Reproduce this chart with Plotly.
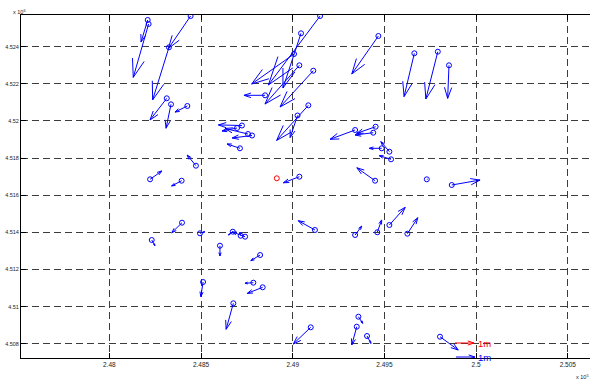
import plotly.graph_objects as go

# ---- data (easting / northing in metres, displacement u/v in metres) ----
east = [248209, 248214, 248443, 248325, 248313, 248336, 248425, 249149, 249045, 249007,
        249036, 249112, 248849, 249085, 249026, 249467, 249663, 249791, 249852, 249340,
        249452, 249439, 249485, 249527, 249536, 249449, 249731, 249867, 248723, 248696,
        248756, 248778, 248712, 248472, 248394, 248222, 249036, 248396, 248231, 248494,
        248673, 248740, 248716, 249121, 248603, 248822, 248511, 248785, 248836, 248676,
        249098, 249340, 249461, 249527, 249625, 249358, 249349, 249405, 249803]
north = [4525439, 4525223, 4525654, 4523968, 4521220, 4520897, 4520806, 4525654, 4524722, 4523607,
         4522998, 4522707, 4521382, 4520843, 4520294, 4524577, 4523645, 4523731, 4522998, 4519513,
         4519690, 4519367, 4518527, 4518344, 4517934, 4516781, 4516857, 4516550, 4519755, 4519620,
         4519297, 4519216, 4518527, 4517590, 4516781, 4516857, 4516997, 4514519, 4513587, 4513948,
         4514034, 4513765, 4513818, 4514126, 4513280, 4512779, 4511324, 4511287, 4511039, 4510177,
         4508884, 4513856, 4514002, 4514395, 4513926, 4509455, 4508916, 4508415, 4508377]
u = [-0.35, -0.81, -1.17, -0.86, -0.88, -0.26, -0.65, -2.72, -0.95, -2.23,
     -1.81, -1.75, -1.11, -1.67, -0.39, -1.40, -0.54, -0.63, -0.07, -1.32,
     -1.00, -0.96, -0.65, -0.45, -0.62, -0.96, 0.03, 1.49, -1.24, -0.79,
     -1.21, -1.05, -0.68, -0.46, -0.53, 0.62, -0.84, -0.54, 0.17, 0.26,
     -0.23, -0.68, -0.04, -0.88, 0.00, -0.49, -0.12, -0.44, -0.81, -0.38,
     -0.92, 0.35, 0.23, 0.83, 0.55, 0.23, -0.26, 0.21, 0.96]
v = [-1.16, -2.81, -1.71, -2.77, -1.14, -1.26, -0.32, -3.63, -2.88, -1.58,
     -2.04, -1.91, 0.00, -1.85, -1.16, -2.00, -2.28, -2.49, -1.74, -0.49,
     -0.35, -0.12, 0.00, 0.53, 0.19, 0.68, 0.00, 0.26, 0.03, -0.16,
     0.29, -0.13, 0.23, 0.56, -0.28, 0.44, -0.32, -0.53, -0.30, 0.08,
     -0.17, 0.25, 0.19, 0.49, -0.54, -0.30, -0.77, -0.03, -0.32, -1.37,
     -0.88, 0.47, 0.65, 0.93, 0.84, -0.35, -0.96, -0.39, -0.70]

red_east = [248913]
red_north = [4516911]

ref_east = [249885, 249890]
ref_north = [4508038, 4507284]
ref_u = [1.0, 1.0]
ref_v = [0.0, 0.0]
ref_labels = ["1m", "1m"]
ref_colors = ["#ff0000", "#0000ff"]

xtick_vals = [248000, 248500, 249000, 249500, 250000, 250500]
xtick_text = ["2.48", "2.485", "2.49", "2.495", "2.5", "2.505"]
ytick_vals = [4508000, 4510000, 4512000, 4514000, 4516000, 4518000, 4520000, 4522000, 4524000]
ytick_text = ["4.508", "4.51", "4.512", "4.514", "4.516", "4.518", "4.52", "4.522", "4.524"]

# ---- layout geometry ----
W, H = 590, 381
ML, MR, MT, MB = 21, 0, 15, 23
XR = [247518, 250621]
YR = [4507230, 4525708]
PW, PH = W - ML - MR, H - MT - MB
MX = (XR[1] - XR[0]) / PW   # metres of easting per pixel
MY = (YR[1] - YR[0]) / PH   # metres of northing per pixel
S = 19.0                    # pixels per metre of displacement


def quiver(xs, ys, us, vs, alpha=0.33, beta=0.33):
    lx, ly = [], []
    for x, y, a, b in zip(xs, ys, us, vs):
        du, dv = a * S, b * S
        tx, ty = x + du * MX, y + dv * MY
        lx += [x, tx, None]
        ly += [y, ty, None]
        h1u = du - alpha * (du + beta * dv)
        h1v = dv - alpha * (dv - beta * du)
        h2u = du - alpha * (du - beta * dv)
        h2v = dv - alpha * (dv + beta * du)
        lx += [x + h1u * MX, tx, x + h2u * MX, None]
        ly += [y + h1v * MY, ty, y + h2v * MY, None]
    return lx, ly


fig = go.Figure()

qx, qy = quiver(east, north, u, v)
fig.add_trace(go.Scatter(x=qx, y=qy, mode="lines",
                         line=dict(color="#0000ff", width=1), hoverinfo="skip"))
fig.add_trace(go.Scatter(x=east, y=north, mode="markers",
                         marker=dict(symbol="circle-open", size=5, color="#0000ff",
                                     line=dict(width=1, color="#0000ff"))))
fig.add_trace(go.Scatter(x=red_east, y=red_north, mode="markers",
                         marker=dict(symbol="circle-open", size=5, color="#ff0000",
                                     line=dict(width=1, color="#ff0000"))))

for i in range(len(ref_east)):
    rx, ry = quiver([ref_east[i]], [ref_north[i]], [ref_u[i]], [ref_v[i]])
    fig.add_trace(go.Scatter(x=rx, y=ry, mode="lines",
                             line=dict(color=ref_colors[i], width=1), hoverinfo="skip"))
    fig.add_annotation(x=ref_east[i] + ref_u[i] * S * MX + 1.5 * MX, y=ref_north[i],
                       text=ref_labels[i], showarrow=False, xanchor="left", yanchor="middle",
                       font=dict(family="Liberation Sans, Arial", size=9.5, color=ref_colors[i]))

axis_common = dict(showline=True, linecolor="#000000", linewidth=1,
                   ticks="inside", ticklen=5, tickcolor="#000000", tickwidth=1,
                   showgrid=True, gridcolor="#3c3c3c", gridwidth=1, griddash="7px,4px",
                   zeroline=False,
                   tickfont=dict(family="Liberation Sans, Arial", size=6.5, color="#222222"))

fig.update_xaxes(range=XR, tickmode="array", tickvals=xtick_vals, ticktext=xtick_text,
                 mirror="ticks", **axis_common)
fig.update_yaxes(range=YR, tickmode="array", tickvals=ytick_vals, ticktext=ytick_text,
                 mirror=False, **axis_common)
fig.update_yaxes(tickfont=dict(family="Liberation Sans, Arial", size=5.5, color="#222222"))

fig.add_annotation(xref="paper", yref="paper", x=(11 - ML) / PW, y=(H - MB - 12) / PH,
                   text="x 10<sup>6</sup>", showarrow=False, xanchor="left", yanchor="middle",
                   font=dict(family="Liberation Sans, Arial", size=5.5, color="#222222"))
fig.add_annotation(xref="paper", yref="paper", x=(574 - ML) / PW, y=-(377 - (H - MB)) / PH,
                   text="x 10<sup>5</sup>", showarrow=False, xanchor="left", yanchor="middle",
                   font=dict(family="Liberation Sans, Arial", size=5.5, color="#222222"))

fig.update_layout(width=W, height=H, margin=dict(l=ML, r=MR, t=MT, b=MB, pad=0, autoexpand=False),
                  plot_bgcolor="#ffffff", paper_bgcolor="#ffffff", showlegend=False)

fig.write_html("out.html", config={"displayModeBar": False},
               post_script="document.body.style.margin='0';document.body.style.overflow='hidden';")
